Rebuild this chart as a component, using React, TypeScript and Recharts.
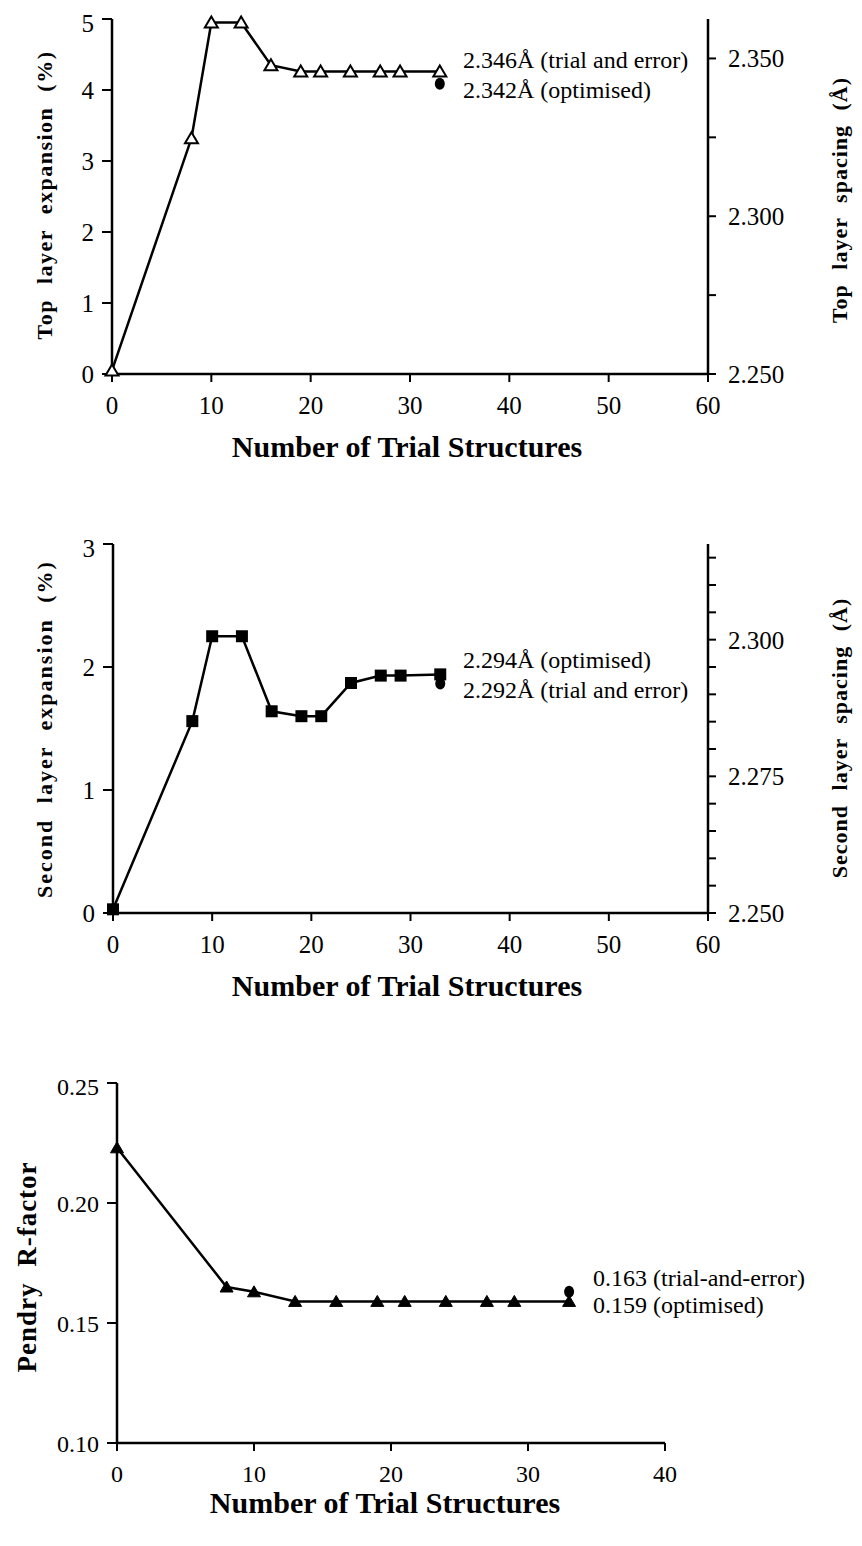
import { ComposedChart, Line, Scatter, XAxis, YAxis } from "recharts";

const FONT = "'Liberation Serif', 'Times New Roman', serif";

// trial structure counts (shared by all three panels)
const trials = [0, 8, 10, 13, 16, 19, 21, 24, 27, 29, 33];

// panel 1: top layer expansion (%) and spacing (Å)
const topExpansion = [0.05, 3.32, 4.95, 4.95, 4.35, 4.26, 4.26, 4.26, 4.26, 4.26, 4.26];
const topOptimisedSpacing = [{ x: 33, y: 2.342 }];
const topTicks = [0, 1, 2, 3, 4, 5];
const topSpacingTicks = [2.25, 2.275, 2.3, 2.325, 2.35];
const topSpacingLabels = [2.25, 2.3, 2.35];

// panel 2: second layer expansion (%) and spacing (Å)
const secondExpansion = [0.03, 1.56, 2.25, 2.25, 1.64, 1.6, 1.6, 1.87, 1.93, 1.93, 1.94];
const secondOtherSpacing = [{ x: 33, y: 2.292 }];
const secondTicks = [0, 1, 2, 3];
const secondSpacingTicks = [
  2.25, 2.255, 2.26, 2.265, 2.27, 2.275, 2.28, 2.285, 2.29, 2.295, 2.3, 2.305, 2.31, 2.315,
];
const secondSpacingLabels = [2.25, 2.275, 2.3];

// panel 3: Pendry R-factor
const rFactor = [0.223, 0.165, 0.163, 0.159, 0.159, 0.159, 0.159, 0.159, 0.159, 0.159, 0.159];
const rTrialError = [{ x: 33, y: 0.163 }];
const rTicks = [0.1, 0.15, 0.2, 0.25];

const xTicks60 = [0, 10, 20, 30, 40, 50, 60];
const xTicks40 = [0, 10, 20, 30, 40];

type Pt = { x: number; y: number };
type MarkerKind = "openTri" | "square" | "tri" | "dot";

function Marker({ kind, cx, cy }: { kind: MarkerKind; cx: number; cy: number }) {
  if (cx == null || cy == null) return null;
  if (kind === "square") {
    return <rect x={cx - 6} y={cy - 6} width={12} height={12} fill="#000" />;
  }
  if (kind === "dot") {
    return <ellipse cx={cx} cy={cy} rx={5} ry={6} fill="#000" />;
  }
  const d = `M${cx},${cy - 6} L${cx + 6.5},${cy + 5} L${cx - 6.5},${cy + 5} Z`;
  if (kind === "openTri") {
    return <path d={d} fill="#fff" stroke="#000" strokeWidth={2} />;
  }
  return <path d={d} fill="#000" stroke="#000" strokeWidth={1} />;
}

const axisLine = { stroke: "#000", strokeWidth: 2.5 };
const tickLine = { stroke: "#000", strokeWidth: 2 };

type PanelProps = {
  top: number;
  bottom: number;
  left: number;
  right: number;
  rows: Pt[];
  extra: Pt[];
  extraOnRight?: boolean;
  marker: MarkerKind;
  xMax: number;
  xTicks: number[];
  yDomain: [number, number];
  yTicks: number[];
  yFmt: (v: number) => string;
  fontSize: number;
  spacing?: { domain: [number, number]; ticks: number[]; labels: number[] };
};

function Panel(p: PanelProps) {
  const xAxisH = 40;
  const height = p.bottom - p.top + 10 + xAxisH + 10;
  const tickStyle = { fontFamily: FONT, fontSize: p.fontSize, fill: "#000" };
  const margin = {
    top: 10,
    bottom: 10,
    left: 10,
    right: p.spacing ? 10 : 862 - p.right,
  };
  return (
    <div style={{ position: "absolute", left: 0, top: p.top - 10 }}>
      <ComposedChart width={862} height={height} data={p.rows} margin={margin}>
        <XAxis
          dataKey="x"
          type="number"
          domain={[0, p.xMax]}
          ticks={p.xTicks}
          height={xAxisH}
          tick={tickStyle}
          axisLine={axisLine}
          tickLine={tickLine}
          tickSize={8}
          tickMargin={14}
        />
        <YAxis
          yAxisId="left"
          type="number"
          domain={p.yDomain}
          ticks={p.yTicks}
          width={p.left - 10}
          tick={tickStyle}
          tickFormatter={p.yFmt}
          axisLine={axisLine}
          tickLine={tickLine}
          tickSize={10}
          tickMargin={8}
        />
        {p.spacing && (
          <YAxis
            yAxisId="right"
            orientation="right"
            type="number"
            domain={p.spacing.domain}
            ticks={p.spacing.ticks}
            interval={0}
            allowDataOverflow
            width={862 - p.right - 10}
            tick={tickStyle}
            tickFormatter={(v: number) =>
              p.spacing!.labels.some((l) => Math.abs(l - v) < 1e-6) ? v.toFixed(3) : ""
            }
            axisLine={axisLine}
            tickLine={tickLine}
            tickSize={8}
            tickMargin={12}
          />
        )}
        <Line
          yAxisId="left"
          dataKey="y"
          stroke="#000"
          strokeWidth={2.5}
          dot={false}
          isAnimationActive={false}
        />
        <Scatter
          yAxisId={p.extraOnRight ? "right" : "left"}
          data={p.extra}
          dataKey="y"
          isAnimationActive={false}
          shape={(s: any) => <Marker kind="dot" cx={s.cx} cy={s.cy} />}
        />
        <Scatter
          yAxisId="left"
          data={p.rows}
          dataKey="y"
          isAnimationActive={false}
          shape={(s: any) => <Marker kind={p.marker} cx={s.cx} cy={s.cy} />}
        />
      </ComposedChart>
    </div>
  );
}

function VTitle({
  text,
  cx,
  cy,
  size = 22,
  letter = 1,
}: {
  text: string;
  cx: number;
  cy: number;
  size?: number;
  letter?: number;
}) {
  return (
    <div
      style={{
        position: "absolute",
        left: cx,
        top: cy,
        transform: "translate(-50%, -50%) rotate(-90deg)",
        whiteSpace: "nowrap",
        fontFamily: FONT,
        fontWeight: "bold",
        fontSize: size,
        letterSpacing: letter,
        wordSpacing: 8,
        lineHeight: 1,
      }}
    >
      {text}
    </div>
  );
}

function XTitle({ cx, cy }: { cx: number; cy: number }) {
  return (
    <div
      style={{
        position: "absolute",
        left: cx,
        top: cy,
        transform: "translate(-50%, -50%)",
        whiteSpace: "nowrap",
        fontFamily: FONT,
        fontWeight: "bold",
        fontSize: 30,
        lineHeight: 1,
      }}
    >
      Number of Trial Structures
    </div>
  );
}

function Note({ text, x, cy }: { text: string; x: number; cy: number }) {
  return (
    <div
      style={{
        position: "absolute",
        left: x,
        top: cy,
        transform: "translateY(-50%)",
        whiteSpace: "nowrap",
        fontFamily: FONT,
        fontSize: 24,
        lineHeight: 1,
      }}
    >
      {text}
    </div>
  );
}

const toRows = (ys: number[]): Pt[] => trials.map((x, i) => ({ x, y: ys[i] }));

export default function App() {
  return (
    <div
      style={{
        position: "absolute",
        left: 0,
        top: 0,
        width: 862,
        height: 1546,
        background: "#fff",
        overflow: "hidden",
      }}
    >
      <Panel
        top={19}
        bottom={374}
        left={112}
        right={708}
        rows={toRows(topExpansion)}
        extra={topOptimisedSpacing}
        extraOnRight
        marker="openTri"
        xMax={60}
        xTicks={xTicks60}
        yDomain={[0, 5]}
        yTicks={topTicks}
        yFmt={(v) => String(v)}
        fontSize={25}
        spacing={{ domain: [2.25, 2.3625], ticks: topSpacingTicks, labels: topSpacingLabels }}
      />
      <VTitle text="Top layer expansion (%)" cx={45} cy={195} letter={1.5} />
      <VTitle text="Top layer spacing (Å)" cx={840} cy={200} />
      <XTitle cx={407} cy={447} />
      <Note text="2.346Å (trial and error)" x={463} cy={60} />
      <Note text="2.342Å (optimised)" x={463} cy={90} />

      <Panel
        top={544}
        bottom={913}
        left={113}
        right={708}
        rows={toRows(secondExpansion)}
        extra={secondOtherSpacing}
        extraOnRight
        marker="square"
        xMax={60}
        xTicks={xTicks60}
        yDomain={[0, 3]}
        yTicks={secondTicks}
        yFmt={(v) => String(v)}
        fontSize={25}
        spacing={{ domain: [2.25, 2.3175], ticks: secondSpacingTicks, labels: secondSpacingLabels }}
      />
      <VTitle text="Second layer expansion (%)" cx={45} cy={729} letter={2} />
      <VTitle text="Second layer spacing (Å)" cx={840} cy={738} />
      <XTitle cx={407} cy={986} />
      <Note text="2.294Å (optimised)" x={463} cy={660} />
      <Note text="2.292Å (trial and error)" x={463} cy={690} />

      <Panel
        top={1083}
        bottom={1443}
        left={117}
        right={665}
        rows={toRows(rFactor)}
        extra={rTrialError}
        marker="tri"
        xMax={40}
        xTicks={xTicks40}
        yDomain={[0.1, 0.25]}
        yTicks={rTicks}
        yFmt={(v) => v.toFixed(2)}
        fontSize={24}
      />
      <VTitle text="Pendry R-factor" cx={27} cy={1267} size={27} />
      <XTitle cx={385} cy={1503} />
      <Note text="0.163 (trial-and-error)" x={593} cy={1278} />
      <Note text="0.159 (optimised)" x={593} cy={1305} />
    </div>
  );
}
